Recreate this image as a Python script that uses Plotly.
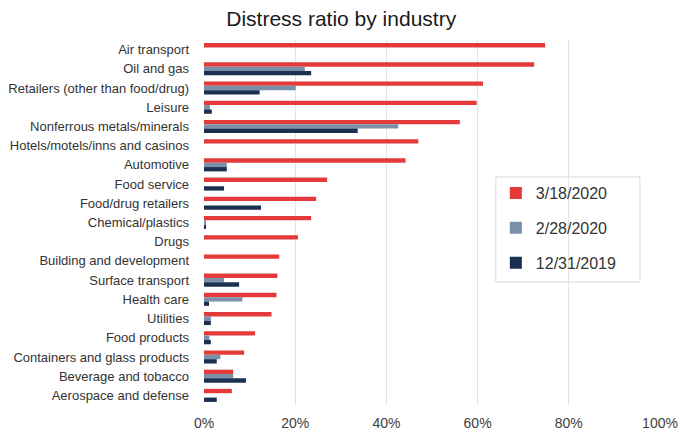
import plotly.graph_objects as go

categories = [
    "Air transport", "Oil and gas", "Retailers (other than food/drug)", "Leisure",
    "Nonferrous metals/minerals", "Hotels/motels/inns and casinos", "Automotive",
    "Food service", "Food/drug retailers", "Chemical/plastics", "Drugs",
    "Building and development", "Surface transport", "Health care", "Utilities",
    "Food products", "Containers and glass products", "Beverage and tobacco",
    "Aerospace and defense",
]
mar18_2020 = [74.8, 72.4, 61.2, 59.8, 56.1, 47.0, 44.2, 27.0, 24.6, 23.5, 20.6,
              16.5, 16.1, 15.9, 14.8, 11.2, 8.8, 6.4, 6.1]
feb28_2020 = [0.0, 22.1, 20.1, 1.3, 42.6, 0.0, 5.0, 0.0, 0.0, 0.4, 0.0,
              0.0, 4.4, 8.4, 1.5, 1.2, 3.6, 6.4, 0.0]
dec31_2019 = [0.0, 23.5, 12.2, 1.7, 33.7, 0.0, 5.0, 4.4, 12.5, 0.4, 0.0,
              0.0, 7.7, 1.1, 1.5, 1.5, 2.8, 9.2, 2.8]
series_names = ["3/18/2020", "2/28/2020", "12/31/2019"]
colors = ["#E53A3A", "#7A8FA8", "#1B3050"]
x_ticks = [0, 20, 40, 60, 80, 100]
x_tick_labels = ["0%", "20%", "40%", "60%", "80%", "100%"]

fig = go.Figure()
for i, (name, vals) in enumerate(zip(series_names, [mar18_2020, feb28_2020, dec31_2019])):
    fig.add_trace(go.Bar(
        y=categories, x=vals, name=name, orientation="h",
        marker=dict(color=colors[i], line=dict(width=0)),
        legendgroup=name,
    ))

# legend frame (decorative box)
fig.add_shape(type="rect", xref="paper", yref="paper",
              x0=0.640, x1=0.956, y0=0.337, y1=0.625,
              line=dict(color="#d9d9d9", width=1), fillcolor="white", layer="below")

fig.update_layout(
    width=700, height=440,
    margin=dict(l=196, r=48, t=32, b=43, autoexpand=False),
    paper_bgcolor="white", plot_bgcolor="white",
    barmode="group", bargap=0.32, bargroupgap=0,
    font=dict(family="Liberation Sans, Arial, sans-serif", color="#404040", size=13),
    title=dict(text="Distress ratio by industry", x=0.476, xanchor="center",
               y=0.975, yanchor="middle",
               font=dict(size=21, color="#1a1a1a")),
    legend=dict(x=0.640, y=0.627, xanchor="left", yanchor="top",
                borderwidth=0, bgcolor="rgba(0,0,0,0)",
                font=dict(size=16, color="#333333"),
                traceorder="grouped", tracegroupgap=11, itemwidth=30),
)
fig.update_xaxes(range=[0, 100], tickvals=x_ticks, ticktext=x_tick_labels,
                 showgrid=True, gridcolor="#e3e3e3", gridwidth=1,
                 zeroline=True, zerolinecolor="rgba(0,0,0,0)",
                 showline=False, ticks="", ticklabelstandoff=8,
                 tickfont=dict(size=14, color="#404040"))
fig.update_yaxes(autorange="reversed", showgrid=False, showline=False, ticks="",
                 ticklabelstandoff=14, tickfont=dict(size=13, color="#333333"))

fig.write_html("out.html")
